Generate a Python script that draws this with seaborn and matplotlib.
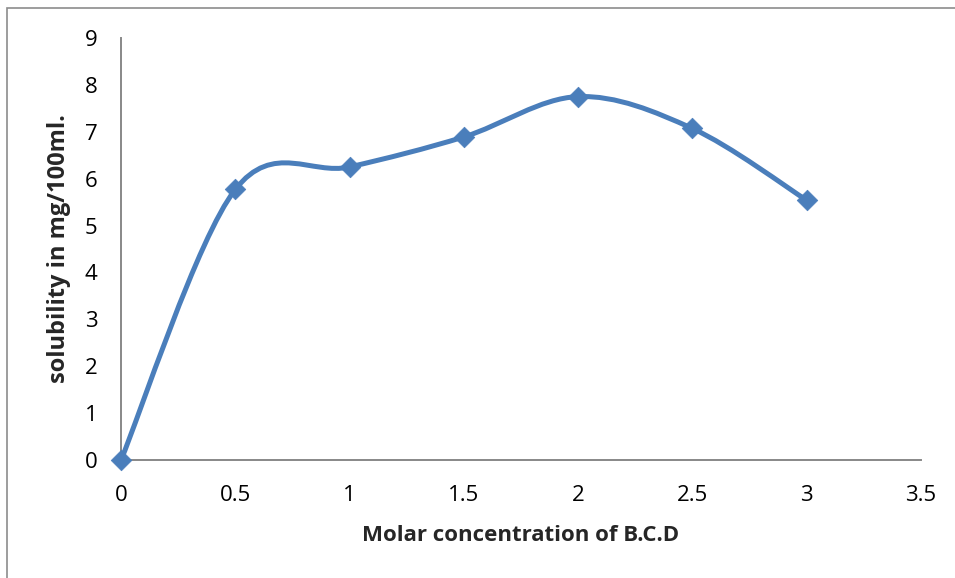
import matplotlib
matplotlib.use('Agg')
import matplotlib.pyplot as plt
import numpy as np
import pandas as pd
import seaborn as sns
from matplotlib.path import Path
from matplotlib.patches import PathPatch, Rectangle

conc = [0, 0.5, 1, 1.5, 2, 2.5, 3]
solubility = [0, 5.77, 6.25, 6.89, 7.75, 7.07, 5.54]
x_ticks = [0, 0.5, 1, 1.5, 2, 2.5, 3, 3.5]
y_ticks = [0, 1, 2, 3, 4, 5, 6, 7, 8, 9]

df = pd.DataFrame({'conc': conc, 'solubility': solubility})

sns.set_style('white')
plt.rcParams['font.family'] = ['Open Sans', 'DejaVu Sans']

blue = '#4A7EBB'
grey = '#888888'

fig = plt.figure(figsize=(9.55, 5.78), dpi=100)
ax = fig.add_axes([121 / 955, 118 / 578, 800 / 955, 422 / 578])

# smooth line like the spreadsheet "smoothed line" option (cubic bezier through points)
pts = df[['conc', 'solubility']].to_numpy()
n = len(pts)
verts = [pts[0]]
codes = [Path.MOVETO]
for i in range(n - 1):
    p_prev = pts[max(i - 1, 0)]
    p0 = pts[i]
    p1 = pts[i + 1]
    p_next = pts[min(i + 2, n - 1)]
    c1 = p0 + (p1 - p_prev) / 6
    c2 = p1 - (p_next - p0) / 6
    verts += [c1, c2, p1]
    codes += [Path.CURVE4] * 3
ax.add_patch(PathPatch(Path(verts, codes), facecolor='none', edgecolor=blue,
                       lw=3.6, capstyle='round', joinstyle='round', zorder=2))

sns.scatterplot(data=df, x='conc', y='solubility', marker='D', s=110,
                color=blue, edgecolor=blue, linewidth=0.5, ax=ax, zorder=3,
                clip_on=False)

ax.set_xlim(0, 3.5)
ax.set_ylim(0, 9)
ax.set_xticks(x_ticks)
ax.set_xticklabels([f'{t:g}' for t in x_ticks])
ax.set_yticks(y_ticks)
ax.tick_params(axis='both', length=0, labelsize=16, colors='black')
ax.tick_params(axis='x', pad=18)
ax.tick_params(axis='y', pad=17)

for side in ['top', 'right']:
    ax.spines[side].set_visible(False)
for side in ['left', 'bottom']:
    ax.spines[side].set_color(grey)
    ax.spines[side].set_linewidth(1.4)

ax.set_xlabel('Molar concentration of B.C.D', fontsize=16, fontweight='bold', labelpad=14)
ax.set_ylabel('solubility in mg/100ml.', fontsize=17, fontweight='bold', labelpad=10)

# outer chart border (left and top edges visible in the crop)
fig.patches.append(Rectangle((7 / 955, -0.1), 1.2, (578 - 8) / 578 + 0.1,
                             transform=fig.transFigure, fill=False,
                             edgecolor='#8c8c8c', lw=1.2))

plt.savefig('out.png', dpi=100)
